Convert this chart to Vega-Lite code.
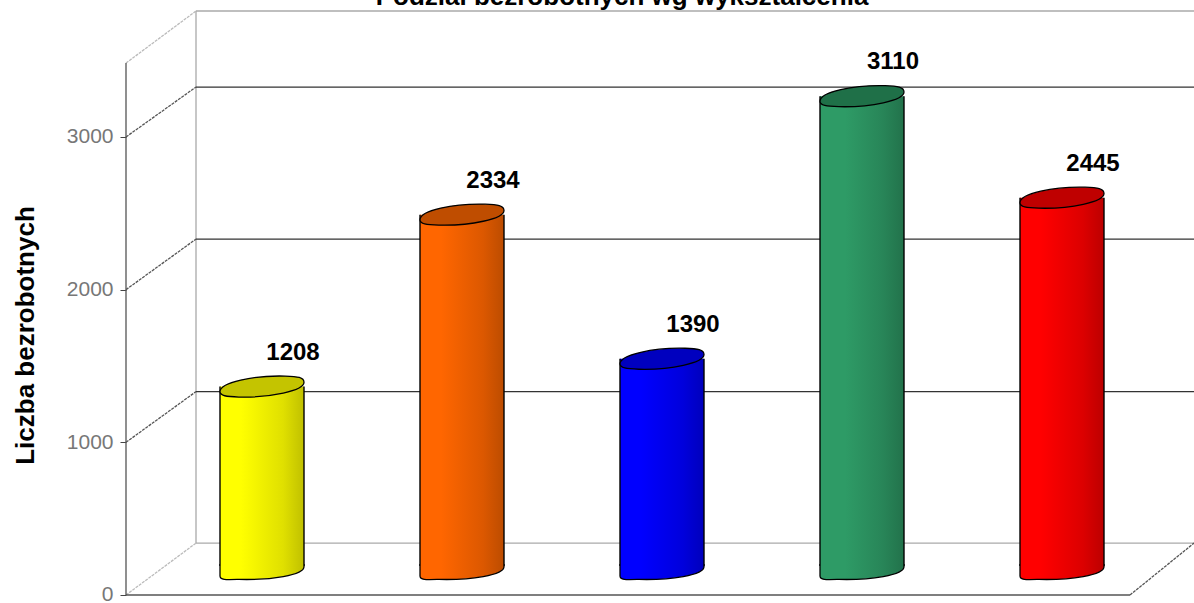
{
"$schema":"https://vega.github.io/schema/vega-lite/v6.json",
"width":1194,"height":603,"padding":0,"autosize":{"type":"none"},
"background":"white",
"config":{"view":{"stroke":null}},
"datasets":{
"heading":[{"label":"Podział bezrobotnych wg wykształcenia","x":2.8,"y":3866}],
"bars":[
{"cat":"a","i":1,"value":1208},
{"cat":"b","i":2,"value":2334},
{"cat":"c","i":3,"value":1390},
{"cat":"d","i":4,"value":3110},
{"cat":"e","i":5,"value":2445}],
"frame":[
{"seg":"wall","kind":"wall","x":0.67,"y":340},{"seg":"wall","kind":"wall","x":0.67,"y":3825},
{"seg":"top","kind":"wall","x":0.67,"y":3825},{"seg":"top","kind":"wall","x":5.66,"y":3825},
{"seg":"floorBack","kind":"wall","x":0.67,"y":340},{"seg":"floorBack","kind":"wall","x":5.66,"y":340},
{"seg":"topDiag","kind":"light","x":0.32,"y":3484},{"seg":"topDiag","kind":"light","x":0.67,"y":3825},
{"seg":"floorDiag","kind":"light","x":0.32,"y":0},{"seg":"floorDiag","kind":"light","x":0.67,"y":340},
{"seg":"g1","kind":"grid","x":0.67,"y":1332},{"seg":"g1","kind":"grid","x":5.66,"y":1332},
{"seg":"g2","kind":"grid","x":0.67,"y":2331},{"seg":"g2","kind":"grid","x":5.66,"y":2331},
{"seg":"g3","kind":"grid","x":0.67,"y":3327},{"seg":"g3","kind":"grid","x":5.66,"y":3327},
{"seg":"d1","kind":"diag","x":0.32,"y":1000},{"seg":"d1","kind":"diag","x":0.67,"y":1332},
{"seg":"d2","kind":"diag","x":0.32,"y":2000},{"seg":"d2","kind":"diag","x":0.67,"y":2331},
{"seg":"d3","kind":"diag","x":0.32,"y":3000},{"seg":"d3","kind":"diag","x":0.67,"y":3327},
{"seg":"right","kind":"diag","x":5.34,"y":0},{"seg":"right","kind":"diag","x":5.66,"y":340},
{"seg":"axisY","kind":"axis","x":0.32,"y":0},{"seg":"axisY","kind":"axis","x":0.32,"y":3484},
{"seg":"axisX","kind":"axis","x":0.32,"y":0},{"seg":"axisX","kind":"axis","x":5.34,"y":0}]
},
"layer":[
{"data":{"name":"frame"},
 "mark":{"type":"line","strokeWidth":1.3},
 "encoding":{
  "x":{"field":"x","type":"quantitative","scale":{"domain":[-0.31,5.66],"nice":false,"zero":false,"padding":0},"axis":null},
  "y":{"field":"y","type":"quantitative","scale":{"domain":[-52.4,3897],"nice":false,"zero":false},
    "axis":{"values":[0,1000,2000,3000],"format":"d","orient":"left","offset":-126,"domain":false,"grid":false,"tickColor":"#444","tickSize":6,"labelPadding":7,"labelColor":"#777","labelFont":"Liberation Sans","labelFontSize":21,"labelFontWeight":"normal","title":"Liczba bezrobotnych","titleFont":"Liberation Sans","titleFontSize":26,"titleFontWeight":"bold","titleColor":"#000","titleX":-101,"titleY":335,"titleAngle":-90,"titleBaseline":"middle","titleAlign":"center","labelOverlap":false}},
  "detail":{"field":"seg"},
  "color":{"field":"kind","type":"nominal","legend":null,"scale":{"domain":["wall","light","grid","diag","axis"],"range":["#aaaaaa","#bbbbbb","#333333","#555555","#555555"]}},
  "strokeDash":{"field":"kind","type":"nominal","legend":null,"scale":{"domain":["wall","light","grid","diag","axis"],"range":[[1,0],[3,1],[1,0],[3,1],[1,0]]}}
 }},
{"data":{"name":"heading"},
 "mark":{"type":"text","font":"Liberation Sans","fontSize":26,"fontWeight":"bold","color":"#000","baseline":"alphabetic","align":"center"},
 "encoding":{"x":{"field":"x","type":"quantitative"},"y":{"field":"y","type":"quantitative"},"text":{"field":"label"}}},
{"data":{"name":"bars"},"transform":[{"filter":"datum.cat==='a'"}],
 "mark":{"type":"point","filled":true,"shape":"M-1 -.15L-1 .12C-1 .22 -.85 .21 -.55 .2C.2 .22 1 .1 1 -.1L1 -.15Z","size":7056,"stroke":"#000","strokeWidth":1.3,"opacity":1,"yOffset":-24,"fill":{"gradient":"linear","x1":0,"x2":1,"y1":0,"y2":0,"stops":[{"offset":0,"color":"#ffff00"},{"offset":0.25,"color":"#ffff00"},{"offset":0.75,"color":"#e0e000"},{"offset":1,"color":"#c0c000"}]}},
 "encoding":{"x":{"field":"i","type":"quantitative"},"y":{"datum":0}}},
{"data":{"name":"bars"},"transform":[{"filter":"datum.cat==='b'"}],
 "mark":{"type":"point","filled":true,"shape":"M-1 -.15L-1 .12C-1 .22 -.85 .21 -.55 .2C.2 .22 1 .1 1 -.1L1 -.15Z","size":7056,"stroke":"#000","strokeWidth":1.3,"opacity":1,"yOffset":-24,"fill":{"gradient":"linear","x1":0,"x2":1,"y1":0,"y2":0,"stops":[{"offset":0,"color":"#ff6600"},{"offset":0.25,"color":"#ff6600"},{"offset":0.75,"color":"#dc5800"},{"offset":1,"color":"#bc4c00"}]}},
 "encoding":{"x":{"field":"i","type":"quantitative"},"y":{"datum":0}}},
{"data":{"name":"bars"},"transform":[{"filter":"datum.cat==='c'"}],
 "mark":{"type":"point","filled":true,"shape":"M-1 -.15L-1 .12C-1 .22 -.85 .21 -.55 .2C.2 .22 1 .1 1 -.1L1 -.15Z","size":7056,"stroke":"#000","strokeWidth":1.3,"opacity":1,"yOffset":-24,"fill":{"gradient":"linear","x1":0,"x2":1,"y1":0,"y2":0,"stops":[{"offset":0,"color":"#0000ff"},{"offset":0.25,"color":"#0000ff"},{"offset":0.75,"color":"#0000dc"},{"offset":1,"color":"#0000bc"}]}},
 "encoding":{"x":{"field":"i","type":"quantitative"},"y":{"datum":0}}},
{"data":{"name":"bars"},"transform":[{"filter":"datum.cat==='d'"}],
 "mark":{"type":"point","filled":true,"shape":"M-1 -.15L-1 .12C-1 .22 -.85 .21 -.55 .2C.2 .22 1 .1 1 -.1L1 -.15Z","size":7056,"stroke":"#000","strokeWidth":1.3,"opacity":1,"yOffset":-24,"fill":{"gradient":"linear","x1":0,"x2":1,"y1":0,"y2":0,"stops":[{"offset":0,"color":"#2e9b66"},{"offset":0.3,"color":"#2e9b66"},{"offset":0.75,"color":"#288558"},{"offset":1,"color":"#22724b"}]}},
 "encoding":{"x":{"field":"i","type":"quantitative"},"y":{"datum":0}}},
{"data":{"name":"bars"},"transform":[{"filter":"datum.cat==='e'"}],
 "mark":{"type":"point","filled":true,"shape":"M-1 -.15L-1 .12C-1 .22 -.85 .21 -.55 .2C.2 .22 1 .1 1 -.1L1 -.15Z","size":7056,"stroke":"#000","strokeWidth":1.3,"opacity":1,"yOffset":-24,"fill":{"gradient":"linear","x1":0,"x2":1,"y1":0,"y2":0,"stops":[{"offset":0,"color":"#ff0000"},{"offset":0.25,"color":"#ff0000"},{"offset":0.75,"color":"#dc0000"},{"offset":1,"color":"#bc0000"}]}},
 "encoding":{"x":{"field":"i","type":"quantitative"},"y":{"datum":0}}},
{"data":{"name":"bars"},"transform":[{"filter":"datum.cat==='a'"}],
 "mark":{"type":"bar","orient":"vertical","width":84,"yOffset":-24,"y2Offset":-29,"fill":{"gradient":"linear","x1":0,"x2":1,"y1":0,"y2":0,"stops":[{"offset":0,"color":"#ffff00"},{"offset":0.25,"color":"#ffff00"},{"offset":0.75,"color":"#e0e000"},{"offset":1,"color":"#c0c000"}]}},
 "encoding":{"x":{"field":"i","type":"quantitative"},"y":{"field":"value","type":"quantitative"},"y2":{"datum":0}}},
{"data":{"name":"bars"},"transform":[{"filter":"datum.cat==='b'"}],
 "mark":{"type":"bar","orient":"vertical","width":84,"yOffset":-24,"y2Offset":-29,"fill":{"gradient":"linear","x1":0,"x2":1,"y1":0,"y2":0,"stops":[{"offset":0,"color":"#ff6600"},{"offset":0.25,"color":"#ff6600"},{"offset":0.75,"color":"#dc5800"},{"offset":1,"color":"#bc4c00"}]}},
 "encoding":{"x":{"field":"i","type":"quantitative"},"y":{"field":"value","type":"quantitative"},"y2":{"datum":0}}},
{"data":{"name":"bars"},"transform":[{"filter":"datum.cat==='c'"}],
 "mark":{"type":"bar","orient":"vertical","width":84,"yOffset":-24,"y2Offset":-29,"fill":{"gradient":"linear","x1":0,"x2":1,"y1":0,"y2":0,"stops":[{"offset":0,"color":"#0000ff"},{"offset":0.25,"color":"#0000ff"},{"offset":0.75,"color":"#0000dc"},{"offset":1,"color":"#0000bc"}]}},
 "encoding":{"x":{"field":"i","type":"quantitative"},"y":{"field":"value","type":"quantitative"},"y2":{"datum":0}}},
{"data":{"name":"bars"},"transform":[{"filter":"datum.cat==='d'"}],
 "mark":{"type":"bar","orient":"vertical","width":84,"yOffset":-24,"y2Offset":-29,"fill":{"gradient":"linear","x1":0,"x2":1,"y1":0,"y2":0,"stops":[{"offset":0,"color":"#2e9b66"},{"offset":0.3,"color":"#2e9b66"},{"offset":0.75,"color":"#288558"},{"offset":1,"color":"#22724b"}]}},
 "encoding":{"x":{"field":"i","type":"quantitative"},"y":{"field":"value","type":"quantitative"},"y2":{"datum":0}}},
{"data":{"name":"bars"},"transform":[{"filter":"datum.cat==='e'"}],
 "mark":{"type":"bar","orient":"vertical","width":84,"yOffset":-24,"y2Offset":-29,"fill":{"gradient":"linear","x1":0,"x2":1,"y1":0,"y2":0,"stops":[{"offset":0,"color":"#ff0000"},{"offset":0.25,"color":"#ff0000"},{"offset":0.75,"color":"#dc0000"},{"offset":1,"color":"#bc0000"}]}},
 "encoding":{"x":{"field":"i","type":"quantitative"},"y":{"field":"value","type":"quantitative"},"y2":{"datum":0}}},
{"data":{"name":"bars"},
 "mark":{"type":"rule","color":"#000","strokeWidth":1.4,"xOffset":-42,"yOffset":-24,"y2Offset":-29},
 "encoding":{"x":{"field":"i","type":"quantitative"},"y":{"field":"value","type":"quantitative"},"y2":{"datum":0}}},
{"data":{"name":"bars"},
 "mark":{"type":"rule","color":"#000","strokeWidth":1.4,"xOffset":42,"yOffset":-24,"y2Offset":-29},
 "encoding":{"x":{"field":"i","type":"quantitative"},"y":{"field":"value","type":"quantitative"},"y2":{"datum":0}}},
{"data":{"name":"bars"},
 "mark":{"type":"point","filled":true,"shape":"M-1 .12C-1 -.1 -.2 -.27 .55 -.25C.85 -.24 1 -.22 1 -.1C1 .1 .2 .27 -.55 .25C-.85 .24 -1 .22 -1 .12Z","size":7056,"stroke":"#000","strokeWidth":1.3,"opacity":1,"yOffset":-24},
 "encoding":{
  "x":{"field":"i","type":"quantitative"},
  "y":{"field":"value","type":"quantitative"},
  "fill":{"field":"cat","type":"nominal","legend":null,"scale":{"domain":["a","b","c","d","e"],"range":["#c4c400","#bf4d00","#0000bf","#1f7048","#bf0000"]}}
 }},
{"data":{"name":"bars"},
 "mark":{"type":"text","font":"Liberation Sans","fontSize":24,"fontWeight":"bold","color":"#000","dx":31,"dy":-58,"baseline":"middle","align":"center"},
 "encoding":{"x":{"field":"i","type":"quantitative"},"y":{"field":"value","type":"quantitative"},"text":{"field":"value","type":"quantitative","format":"d"}}}
]
}
